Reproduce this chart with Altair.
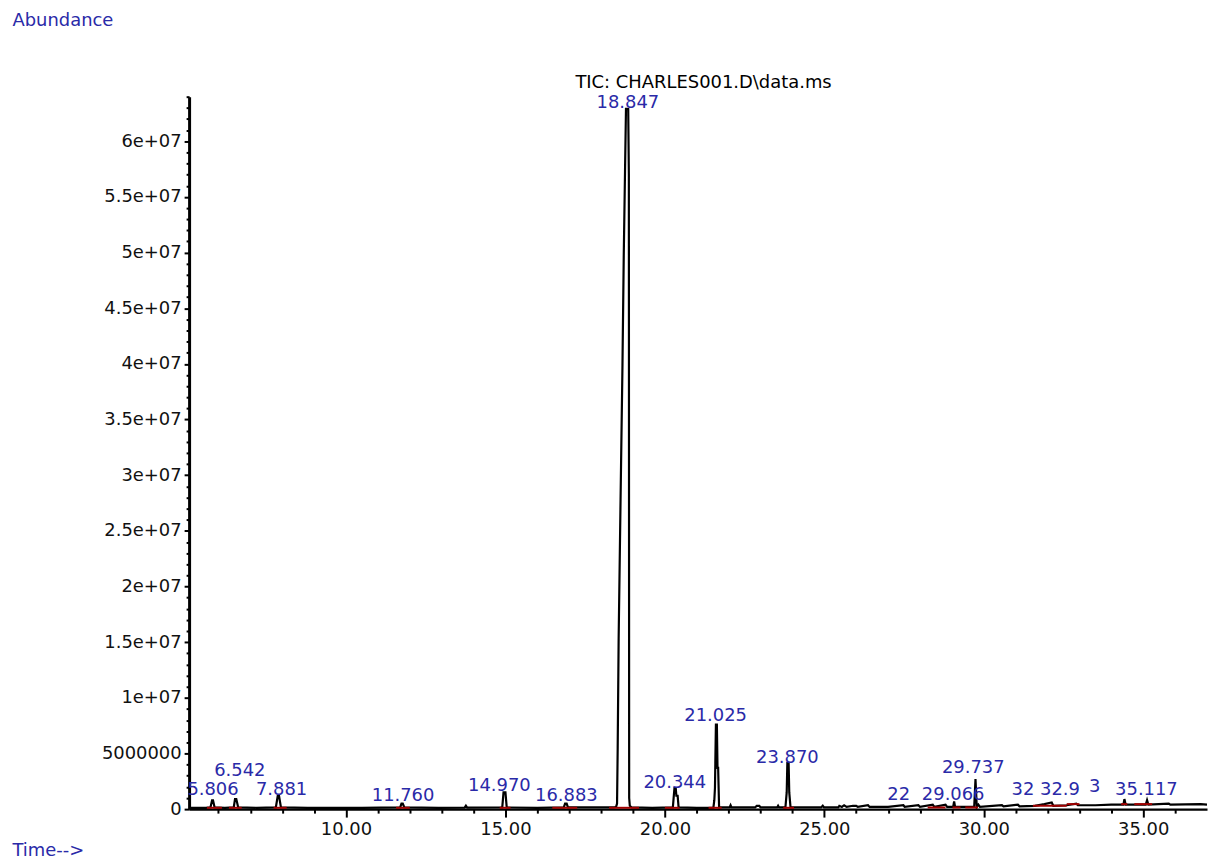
import altair as alt
import pandas as pd

# ---- TIC trace (time in min, abundance in millions) ----
trace_time = [
    5.08, 5.60, 5.75, 5.80, 5.83, 5.88, 6.20, 6.48, 6.52, 6.56, 6.62,
    7.20, 7.80, 7.86, 7.90, 7.96, 8.80, 9.60, 10.50, 11.70, 11.74, 11.78,
    11.83, 12.90, 13.72, 13.76, 13.80, 14.90, 14.94, 15.00, 15.04, 16.00,
    16.83, 16.87, 16.92, 16.96, 17.80, 18.40, 18.47, 18.50, 18.52, 18.55,
    18.61, 18.67, 18.71, 18.75, 18.78, 18.85, 18.87, 18.88, 18.90, 18.96,
    19.60, 20.25, 20.30, 20.34, 20.36, 20.40, 20.43, 21.00, 21.52, 21.55,
    21.57, 21.60, 21.63, 21.65, 21.67, 21.70, 22.03, 22.06, 22.09, 22.83,
    22.88, 22.96, 23.00, 23.52, 23.55, 23.58, 23.78, 23.82, 23.84, 23.88,
    23.90, 23.94, 24.90, 24.95, 24.99, 25.44, 25.47, 25.55, 25.62, 25.70,
    25.90, 26.00, 26.05, 26.37, 26.42, 27.00, 27.48, 27.52, 27.95, 28.00,
    28.40, 28.45, 28.80, 28.85, 29.04, 29.07, 29.10, 29.70, 29.74, 29.78,
    29.83, 29.88, 30.57, 30.62, 31.07, 31.12, 31.60, 31.90, 32.13, 32.18,
    32.60, 32.90, 32.95, 33.50, 34.00, 34.38, 34.41, 34.45, 35.08, 35.12,
    35.16, 35.80, 35.85, 36.80, 37.00,
]
trace_abundance_m = [
    0.12, 0.12, 0.15, 0.8, 0.8, 0.15, 0.12, 0.15, 0.9, 0.9, 0.15,
    0.12, 0.15, 1.2, 1.2, 0.15, 0.12, 0.12, 0.12, 0.15, 0.5, 0.5,
    0.15, 0.12, 0.13, 0.3, 0.13, 0.15, 1.5, 1.5, 0.15, 0.12,
    0.15, 0.5, 0.5, 0.15, 0.15, 0.15, 0.2, 0.5, 5.5, 15.3,
    27.8, 39.9, 49.7, 57.3, 62.9, 62.9, 57.0, 1.0, 0.3, 0.15,
    0.12, 0.15, 1.9, 1.9, 1.2, 1.2, 0.15, 0.12, 0.12, 0.8,
    1.9, 7.6, 7.6, 3.7, 3.7, 0.15, 0.15, 0.35, 0.15, 0.15,
    0.3, 0.3, 0.15, 0.15, 0.3, 0.15, 0.15, 1.5, 4.15, 4.15,
    1.5, 0.15, 0.15, 0.3, 0.15, 0.15, 0.3, 0.2, 0.35, 0.2,
    0.3, 0.3, 0.2, 0.35, 0.2, 0.2, 0.35, 0.2, 0.35, 0.2,
    0.4, 0.2, 0.4, 0.2, 0.2, 0.7, 0.2, 0.2, 2.7, 0.2,
    0.4, 0.2, 0.35, 0.25, 0.4, 0.25, 0.3, 0.45, 0.6, 0.3,
    0.35, 0.5, 0.35, 0.35, 0.4, 0.4, 0.9, 0.4, 0.4, 0.8,
    0.4, 0.5, 0.4, 0.45, 0.4,
]

# ---- integration baselines (red) ----
base_start = [5.64, 6.33, 7.73, 11.57, 14.82, 16.47, 18.25, 20.00, 21.37, 23.71,
              28.24, 29.02, 29.42, 31.54, 32.60, 34.31, 34.72]
base_end = [6.11, 6.73, 8.14, 12.00, 15.16, 17.25, 19.19, 20.46, 21.78, 24.05,
            28.80, 29.27, 29.82, 32.60, 33.00, 34.50, 35.28]
base_level_m = [0.12, 0.12, 0.12, 0.12, 0.12, 0.12, 0.12, 0.12, 0.12, 0.12,
                0.15, 0.15, 0.15, 0.30, 0.45, 0.45, 0.45]

# ---- peak labels ----
label_text = ["5.806", "6.542", "7.881", "11.760", "14.970", "16.883", "18.847",
              "20.344", "21.025", "23.870", "22", "29.066", "29.737", "32",
              "32.9", "3", "35.117"]
label_time = [5.83, 6.67, 7.98, 11.79, 14.81, 16.91, 18.84,
              20.31, 21.59, 23.84, 27.33, 29.04, 29.67, 31.23,
              32.39, 33.48, 35.10]
label_level_m = [1.3, 3.0, 1.3, 0.75, 1.65, 0.75, 63.0,
                 1.9, 7.9, 4.15, 0.85, 0.85, 3.25, 1.3,
                 1.3, 1.5, 1.3]

TITLE = r"TIC: CHARLES001.D\data.ms"

x_ticks = list(range(6, 37))
y_ticks = [i * 1000000 for i in range(0, 65)]

trace = pd.DataFrame({"time": trace_time,
                      "abundance": [v * 1e6 for v in trace_abundance_m]})
bases = pd.DataFrame({"time": base_start, "time2": base_end,
                      "abundance": [v * 1e6 for v in base_level_m]})
labels = pd.DataFrame({"time": label_time, "text": label_text,
                       "abundance": [v * 1e6 for v in label_level_m]})
title_df = pd.DataFrame({"text": [TITLE]})

FONT = "DejaVu Sans"
FS = 18
BLUE = "#2a2aa8"

x_scale = alt.Scale(domain=[5.08, 37.0], nice=False, zero=False)
y_scale = alt.Scale(domain=[0, 64000000], nice=False)

x_axis = alt.Axis(
    values=x_ticks,
    labelExpr="datum.value % 5 === 0 ? format(datum.value, '.2f') : ''",
    tickSize={"condition": {"test": "datum.value % 5 === 0", "value": 8}, "value": 4},
    tickColor="black", tickWidth=2,
    domainColor="black", domainWidth=2.5,
    labelFont=FONT, labelFontSize=FS, labelColor="#111111", labelPadding=3,
    labelOverlap=False, labelFlush=False, grid=False,
    title="Time-->", titleFont=FONT, titleFontSize=FS, titleFontWeight="normal",
    titleColor=BLUE, titleAngle=0, titleAlign="left", titleBaseline="alphabetic",
    titleX=-178, titleY=47,
)
y_axis = alt.Axis(
    values=y_ticks,
    labelExpr=("datum.value === 0 ? '0' : (datum.value % 5000000 !== 0 ? '' : "
               "(datum.value < 10000000 ? format(datum.value, 'd') : "
               "replace(format(datum.value, '~e'), 'e+', 'e+0')))"),
    tickSize={"condition": {"test": "datum.value % 5000000 === 0", "value": 5}, "value": 3},
    tickColor="black", tickWidth=2,
    domainColor="black", domainWidth=3,
    labelFont=FONT, labelFontSize=FS, labelColor="#111111", labelPadding=3,
    labelOverlap=False, labelFlush=False, grid=False,
    title="Abundance", titleFont=FONT, titleFontSize=FS, titleFontWeight="normal",
    titleColor=BLUE, titleAngle=0, titleAlign="left", titleBaseline="alphabetic",
    titleX=-178, titleY=-72,
)

line = alt.Chart(trace).mark_line(color="black", strokeWidth=2.2, clip=True).encode(
    x=alt.X("time:Q", scale=x_scale, axis=x_axis),
    y=alt.Y("abundance:Q", scale=y_scale, axis=y_axis),
)
base = alt.Chart(bases).mark_rule(color="#a00000", strokeWidth=2).encode(
    x=alt.X("time:Q", scale=x_scale, axis=x_axis),
    x2="time2:Q",
    y=alt.Y("abundance:Q", scale=y_scale, axis=y_axis),
)
text = alt.Chart(labels).mark_text(
    color=BLUE, font=FONT, fontSize=FS, align="center", baseline="alphabetic"
).encode(
    x=alt.X("time:Q", scale=x_scale, axis=x_axis),
    y=alt.Y("abundance:Q", scale=y_scale, axis=y_axis),
    text="text:N",
)
title = alt.Chart(title_df).mark_text(
    color="black", font=FONT, fontSize=FS, align="center", baseline="alphabetic"
).encode(
    x=alt.value(517), y=alt.value(-9), text="text:N",
)

chart = alt.layer(line, base, text, title).properties(
    width=1023, height=716,
    autosize=alt.AutoSizeParams(type="none"),
    padding={"left": 182, "top": 87, "right": 2, "bottom": 50},
).configure_view(strokeOpacity=0)

chart.save("out.html", embed_options={"renderer": "svg", "actions": False})
